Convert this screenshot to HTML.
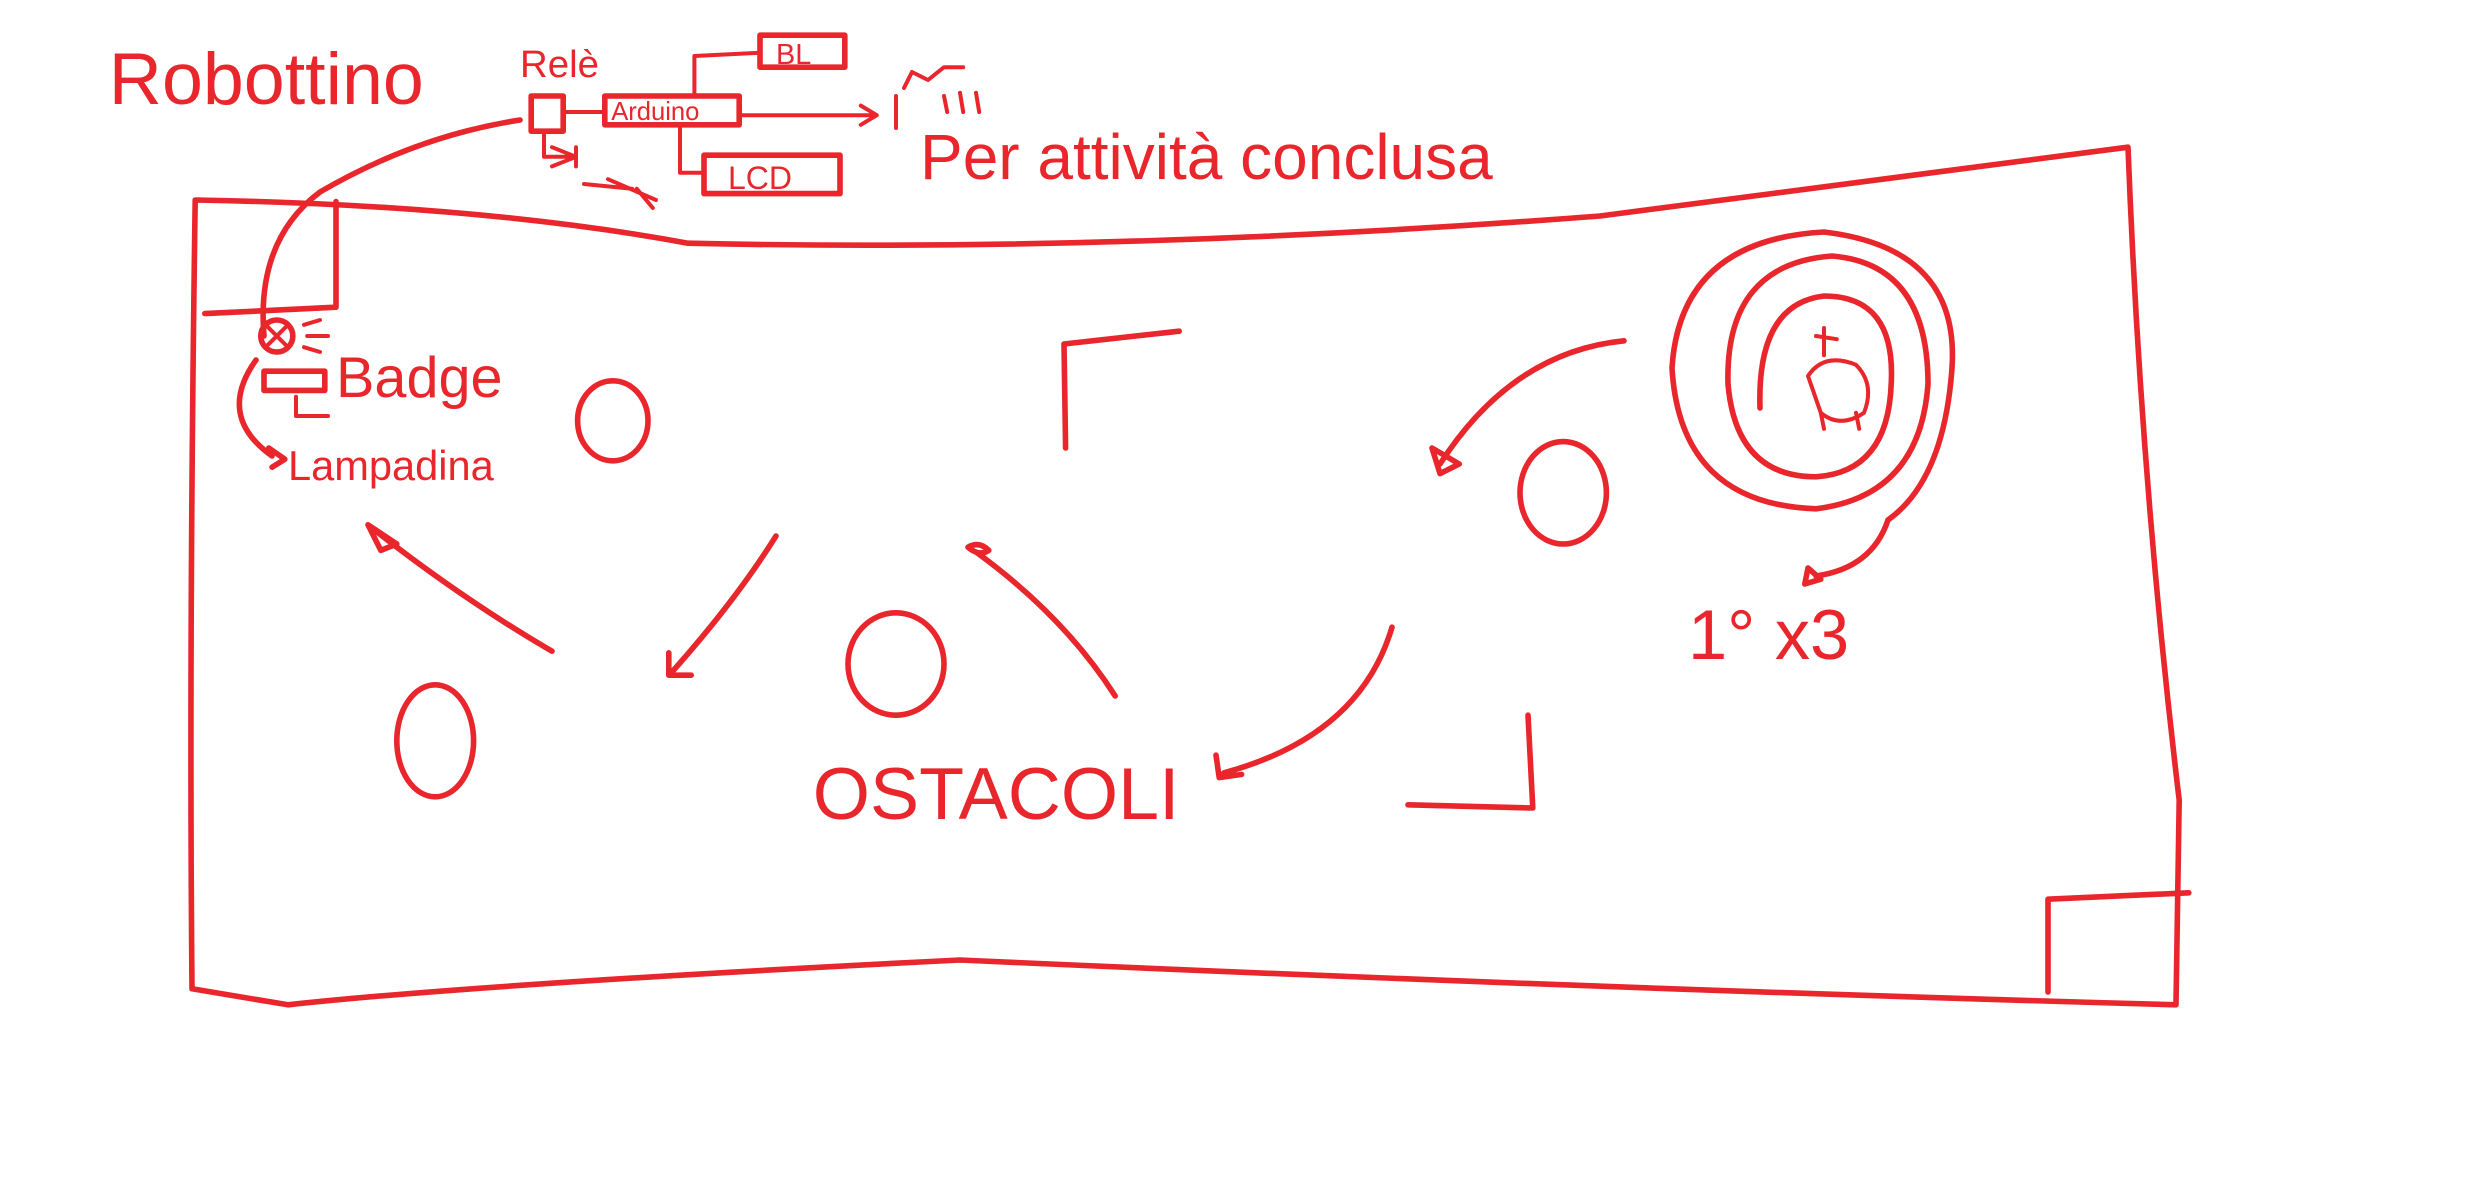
<!DOCTYPE html>
<html><head><meta charset="utf-8"><style>
html,body{margin:0;padding:0;background:#fff;}
svg{display:block}
text{font-family:"Liberation Sans",sans-serif;fill:#e8262b;}
</style></head><body>
<svg width="2484" height="1200" viewBox="0 0 1552.5 750" xmlns="http://www.w3.org/2000/svg">
<g fill="none" stroke="#e8262b" stroke-width="3.5" stroke-linecap="round" stroke-linejoin="round">
<path d="M122,125 Q300,128 430,152 Q700,158 1000,135 L1330,92 Q1338,300 1362,500 L1360,628 Q1000,618 600,600 Q300,615 180,628 L120,618 Q118,400 122,125 Z"/>
<path d="M210,126 L210,192 L128,196"/>
<path d="M1280,620 L1280,562 L1368,558"/>
<ellipse cx="383" cy="263" rx="22" ry="25"/>
<ellipse cx="977" cy="308" rx="27" ry="32"/>
<ellipse cx="560" cy="415" rx="30" ry="32"/>
<ellipse cx="272" cy="463" rx="24" ry="35"/>
<path d="M666,280 L665,215 L737,207"/>
<path d="M955,447 L958,505 L880,503"/>
<path d="M1100,255 Q1098,190 1140,185 Q1185,185 1182,240 Q1180,295 1135,298 Q1085,298 1080,240 Q1078,165 1145,160 Q1205,165 1205,240 Q1200,310 1135,318 Q1050,315 1045,230 Q1050,150 1140,145 Q1225,155 1220,230 Q1215,300 1180,325"/>
<path d="M1130,235 Q1140,220 1160,228 Q1172,240 1165,258 Q1150,268 1138,258 Z M1138,258 L1140,268 M1160,258 L1162,268 M1140,222 L1140,205 M1135,210 L1148,212" stroke-width="2.5"/>
<path d="M1180,325 Q1170,355 1135,360 M1130,355 L1138,362 L1128,365 Z"/>
<path d="M345,407 Q290,375 235,332 M230,328 L248,340 L238,344 Z"/>
<path d="M485,335 Q460,375 420,420 M418,408 L418,422 L432,422"/>
<path d="M697,435 Q665,385 610,345 M605,342 Q612,348 618,344 Q612,338 605,342"/>
<path d="M870,392 Q850,460 765,483 M760,472 L762,486 L776,484"/>
<path d="M1015,213 Q945,220 900,290 M895,280 L900,296 L912,290 Z"/>
<path d="M165,210 Q160,150 200,120 Q260,85 325,75"/>
<path d="M160,225 Q135,260 170,285 M168,280 L178,287 L170,292"/>
<circle cx="173" cy="210" r="10"/>
<path d="M166,203 L180,217 M180,203 L166,217 M190,203 L200,200 M192,210 L205,210 M190,217 L200,220" stroke-width="2.5"/>
<rect x="165" y="232" width="38" height="12"/>
<path d="M185,248 L185,260 L205,260" stroke-width="2.5"/>
<rect x="332" y="60" width="20" height="22"/>
<rect x="378" y="60" width="84" height="18"/>
<rect x="475" y="22" width="53" height="20"/>
<rect x="440" y="97" width="85" height="24"/>
<path d="M434,60 L434,35 L475,33 M425,78 L425,108 L440,108 M462,72 L545,72 M538,66 L548,72 L538,78 M352,70 L378,70 M340,82 L340,98 L360,98 M345,92 L360,98 L345,104 M360,92 L360,104 M365,115 L395,118 M380,112 L410,125 M398,118 L408,130 M560,60 L560,80 M565,55 L570,45 L580,50 L590,42 L602,42 M590,60 L592,70 M600,58 L602,70 M610,58 L612,70" stroke-width="2.5"/>
</g>
<text x="68" y="65" font-size="46">Robottino</text>
<text x="325" y="48" font-size="24">Relè</text>
<text x="382" y="75" font-size="16">Arduino</text>
<text x="485" y="40" font-size="18">BL</text>
<text x="455" y="118" font-size="20">LCD</text>
<text x="575" y="112" font-size="40">Per attività conclusa</text>
<text x="210" y="248" font-size="36">Badge</text>
<text x="180" y="300" font-size="26">Lampadina</text>
<text x="508" y="512" font-size="46">OSTACOLI</text>
<text x="1055" y="412" font-size="44">1° x3</text>
</svg>
</body></html>
